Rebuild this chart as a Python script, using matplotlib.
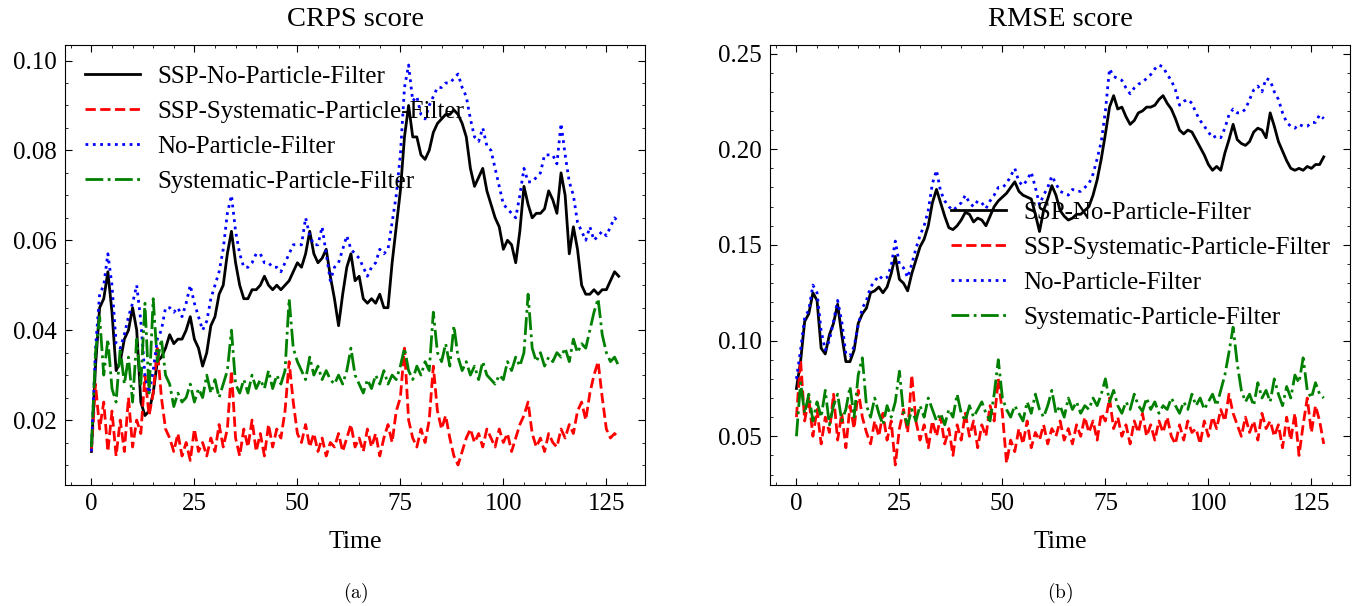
"""CRPS / RMSE score over time for the four filter variants."""
import numpy as np
import matplotlib.pyplot as plt

plt.rcParams.update({
    "font.family": ["Liberation Serif", "DejaVu Serif"],
    "mathtext.fontset": "cm",
    "xtick.direction": "in",
    "ytick.direction": "in",
    "xtick.top": True,
    "ytick.right": True,
    "xtick.minor.visible": True,
    "ytick.minor.visible": True,
    "xtick.major.size": 5,
    "ytick.major.size": 5,
    "xtick.minor.size": 2.5,
    "ytick.minor.size": 2.5,
    "axes.linewidth": 0.8,
})

LABELS = [
    "SSP-No-Particle-Filter",
    "SSP-Systematic-Particle-Filter",
    "No-Particle-Filter",
    "Systematic-Particle-Filter",
]
COLORS = ["k", "r", "b", "g"]
STYLES = ["-", "--", ":", "-."]

time = np.arange(129)

# CRPS values (one per time step)
crps_ssp_no_pf = [
    0.013, 0.032, 0.045, 0.047, 0.053, 0.044, 0.031, 0.033, 0.038, 0.040,
    0.045, 0.040, 0.024, 0.021, 0.022, 0.026, 0.033, 0.034, 0.036, 0.039,
    0.037, 0.038, 0.038, 0.040, 0.043, 0.038, 0.036, 0.032, 0.035, 0.041,
    0.043, 0.048, 0.050, 0.057, 0.062, 0.055, 0.050, 0.047, 0.047, 0.049,
    0.049, 0.050, 0.052, 0.050, 0.049, 0.050, 0.049, 0.050, 0.051, 0.053,
    0.055, 0.054, 0.057, 0.062, 0.057, 0.055, 0.056, 0.058, 0.052, 0.047,
    0.041, 0.048, 0.054, 0.057, 0.051, 0.052, 0.047, 0.046, 0.047, 0.046,
    0.048, 0.045, 0.045, 0.055, 0.063, 0.071, 0.083, 0.090, 0.083, 0.083,
    0.079, 0.078, 0.080, 0.084, 0.086, 0.087, 0.088, 0.088, 0.089, 0.088,
    0.086, 0.083, 0.076, 0.072, 0.074, 0.076, 0.071, 0.068, 0.065, 0.063,
    0.058, 0.060, 0.059, 0.055, 0.062, 0.072, 0.068, 0.065, 0.066, 0.066,
    0.067, 0.071, 0.069, 0.066, 0.075, 0.070, 0.057, 0.063, 0.058, 0.050,
    0.048, 0.048, 0.049, 0.048, 0.049, 0.049, 0.051, 0.053, 0.052,
]
crps_ssp_sys_pf = [
    0.013, 0.028, 0.018, 0.024, 0.013, 0.022, 0.012, 0.020, 0.013, 0.025,
    0.014, 0.020, 0.017, 0.030, 0.021, 0.026, 0.036, 0.025, 0.018, 0.016,
    0.013, 0.017, 0.012, 0.015, 0.011, 0.018, 0.013, 0.015, 0.012, 0.016,
    0.013, 0.019, 0.014, 0.018, 0.031, 0.016, 0.012, 0.018, 0.014, 0.020,
    0.013, 0.017, 0.012, 0.019, 0.014, 0.018, 0.016, 0.022, 0.033, 0.024,
    0.017, 0.015, 0.019, 0.014, 0.017, 0.013, 0.016, 0.012, 0.015, 0.014,
    0.017, 0.013, 0.016, 0.019, 0.014, 0.016, 0.013, 0.018, 0.014, 0.017,
    0.012, 0.016, 0.019, 0.015, 0.022, 0.025, 0.036, 0.020, 0.016, 0.014,
    0.018, 0.015, 0.020, 0.032, 0.022, 0.018, 0.021, 0.016, 0.012, 0.010,
    0.013, 0.016, 0.018, 0.015, 0.017, 0.014, 0.018, 0.016, 0.014, 0.018,
    0.015, 0.017, 0.013, 0.016, 0.019, 0.021, 0.024, 0.017, 0.014, 0.016,
    0.013, 0.017, 0.015, 0.014, 0.018, 0.016, 0.019, 0.017, 0.022, 0.024,
    0.020, 0.026, 0.030, 0.033, 0.025, 0.018, 0.016, 0.017, 0.016,
]
crps_no_pf = [
    0.013, 0.036, 0.048, 0.050, 0.057, 0.050, 0.037, 0.036, 0.039, 0.043,
    0.046, 0.050, 0.042, 0.030, 0.026, 0.031, 0.038, 0.040, 0.045, 0.045,
    0.044, 0.045, 0.043, 0.046, 0.050, 0.046, 0.043, 0.040, 0.042, 0.047,
    0.050, 0.053, 0.058, 0.066, 0.070, 0.062, 0.057, 0.054, 0.054, 0.055,
    0.057, 0.057, 0.055, 0.055, 0.054, 0.054, 0.053, 0.055, 0.057, 0.059,
    0.059, 0.059, 0.065, 0.061, 0.059, 0.059, 0.063, 0.057, 0.051, 0.054,
    0.055, 0.058, 0.061, 0.058, 0.057, 0.056, 0.054, 0.052, 0.054, 0.055,
    0.058, 0.057, 0.058, 0.064, 0.070, 0.079, 0.094, 0.099, 0.091, 0.092,
    0.088, 0.087, 0.090, 0.092, 0.094, 0.094, 0.095, 0.095, 0.096, 0.097,
    0.094, 0.092, 0.087, 0.083, 0.082, 0.085, 0.081, 0.080, 0.076, 0.072,
    0.068, 0.067, 0.066, 0.065, 0.070, 0.076, 0.073, 0.073, 0.074, 0.075,
    0.079, 0.079, 0.079, 0.077, 0.086, 0.079, 0.073, 0.070, 0.064, 0.062,
    0.060, 0.063, 0.060, 0.061, 0.062, 0.061, 0.063, 0.065, 0.064,
]
crps_sys_pf = [
    0.014, 0.035, 0.043, 0.030, 0.038, 0.027, 0.024, 0.036, 0.028, 0.034,
    0.024, 0.038, 0.028, 0.046, 0.026, 0.047, 0.033, 0.038, 0.030, 0.028,
    0.023, 0.026, 0.024, 0.025, 0.028, 0.024, 0.027, 0.025, 0.030, 0.026,
    0.029, 0.025, 0.028, 0.031, 0.040, 0.028, 0.026, 0.029, 0.026, 0.030,
    0.027, 0.029, 0.027, 0.031, 0.027, 0.030, 0.028, 0.031, 0.047, 0.036,
    0.033, 0.031, 0.029, 0.034, 0.030, 0.032, 0.029, 0.031, 0.029, 0.028,
    0.030, 0.028, 0.031, 0.036, 0.030, 0.028, 0.026, 0.029, 0.027, 0.030,
    0.028, 0.031, 0.028, 0.030, 0.029, 0.032, 0.036, 0.031, 0.029, 0.032,
    0.030, 0.033, 0.031, 0.044, 0.035, 0.033, 0.037, 0.032, 0.041, 0.034,
    0.031, 0.033, 0.030, 0.032, 0.029, 0.033, 0.030, 0.029, 0.028, 0.030,
    0.029, 0.033, 0.031, 0.034, 0.032, 0.035, 0.048, 0.036, 0.033, 0.035,
    0.032, 0.034, 0.033, 0.035, 0.034, 0.036, 0.033, 0.038, 0.035, 0.037,
    0.036, 0.040, 0.044, 0.047, 0.039, 0.035, 0.033, 0.034, 0.032,
]

# RMSE values (one per time step)
rmse_ssp_no_pf = [
    0.075, 0.089, 0.110, 0.114, 0.125, 0.121, 0.096, 0.093, 0.103, 0.109,
    0.119, 0.103, 0.089, 0.089, 0.095, 0.109, 0.114, 0.117, 0.125, 0.126,
    0.128, 0.125, 0.128, 0.135, 0.144, 0.132, 0.130, 0.126, 0.135, 0.142,
    0.149, 0.153, 0.160, 0.172, 0.179, 0.172, 0.165, 0.159, 0.158, 0.160,
    0.163, 0.167, 0.166, 0.162, 0.164, 0.163, 0.160, 0.165, 0.170, 0.173,
    0.175, 0.177, 0.180, 0.183, 0.178, 0.176, 0.175, 0.174, 0.166, 0.157,
    0.168, 0.174, 0.181, 0.176, 0.168, 0.165, 0.163, 0.164, 0.166, 0.166,
    0.168, 0.170, 0.176, 0.184, 0.195, 0.208, 0.222, 0.228, 0.221, 0.222,
    0.217, 0.213, 0.215, 0.219, 0.220, 0.222, 0.222, 0.223, 0.226, 0.228,
    0.224, 0.221, 0.216, 0.210, 0.208, 0.210, 0.209, 0.205, 0.201, 0.197,
    0.192, 0.189, 0.191, 0.189, 0.198, 0.205, 0.213, 0.205, 0.203, 0.202,
    0.204, 0.209, 0.211, 0.210, 0.206, 0.219, 0.212, 0.204, 0.199, 0.194,
    0.190, 0.189, 0.190, 0.189, 0.191, 0.190, 0.192, 0.192, 0.196,
]
rmse_ssp_sys_pf = [
    0.060, 0.090, 0.058, 0.070, 0.050, 0.064, 0.046, 0.060, 0.052, 0.072,
    0.048, 0.062, 0.044, 0.066, 0.054, 0.074, 0.060, 0.052, 0.046, 0.058,
    0.050, 0.062, 0.048, 0.058, 0.035, 0.054, 0.064, 0.052, 0.082, 0.058,
    0.048, 0.056, 0.044, 0.058, 0.050, 0.060, 0.046, 0.054, 0.040, 0.056,
    0.048, 0.062, 0.050, 0.058, 0.044, 0.056, 0.050, 0.066, 0.058, 0.080,
    0.062, 0.036, 0.048, 0.042, 0.054, 0.046, 0.058, 0.044, 0.052, 0.048,
    0.056, 0.046, 0.054, 0.050, 0.058, 0.048, 0.054, 0.046, 0.056, 0.050,
    0.060, 0.052, 0.058, 0.048, 0.062, 0.058, 0.070, 0.054, 0.060, 0.050,
    0.056, 0.046, 0.058, 0.052, 0.062, 0.050, 0.056, 0.048, 0.058, 0.052,
    0.060, 0.050, 0.046, 0.056, 0.048, 0.058, 0.052, 0.054, 0.046, 0.058,
    0.050, 0.060, 0.054, 0.064, 0.058, 0.072, 0.062, 0.056, 0.050, 0.060,
    0.052, 0.058, 0.048, 0.062, 0.054, 0.058, 0.050, 0.056, 0.044, 0.060,
    0.048, 0.062, 0.040, 0.056, 0.070, 0.052, 0.066, 0.058, 0.046,
]
rmse_no_pf = [
    0.080, 0.095, 0.112, 0.116, 0.129, 0.125, 0.105, 0.095, 0.100, 0.110,
    0.121, 0.110, 0.093, 0.092, 0.097, 0.108, 0.117, 0.121, 0.128, 0.131,
    0.134, 0.132, 0.133, 0.139, 0.152, 0.140, 0.138, 0.133, 0.140, 0.148,
    0.155, 0.160, 0.168, 0.182, 0.189, 0.178, 0.173, 0.170, 0.168, 0.170,
    0.172, 0.176, 0.172, 0.170, 0.173, 0.172, 0.169, 0.173, 0.176, 0.180,
    0.180, 0.182, 0.186, 0.190, 0.183, 0.181, 0.184, 0.188, 0.180, 0.171,
    0.176, 0.180, 0.186, 0.182, 0.178, 0.177, 0.176, 0.179, 0.178, 0.178,
    0.180, 0.182, 0.187, 0.195, 0.204, 0.220, 0.242, 0.238, 0.237, 0.236,
    0.232, 0.229, 0.232, 0.234, 0.235, 0.237, 0.239, 0.242, 0.244, 0.243,
    0.239, 0.236, 0.231, 0.223, 0.225, 0.226, 0.224, 0.219, 0.215, 0.212,
    0.209, 0.206, 0.207, 0.206, 0.211, 0.218, 0.221, 0.219, 0.219, 0.221,
    0.226, 0.231, 0.233, 0.230, 0.237, 0.236, 0.230, 0.226, 0.219, 0.214,
    0.212, 0.211, 0.213, 0.212, 0.212, 0.214, 0.214, 0.218, 0.216,
]
rmse_sys_pf = [
    0.050, 0.078, 0.062, 0.072, 0.058, 0.068, 0.060, 0.074, 0.056, 0.066,
    0.072, 0.058, 0.064, 0.076, 0.060, 0.082, 0.091, 0.066, 0.060, 0.070,
    0.062, 0.056, 0.066, 0.060, 0.068, 0.084, 0.062, 0.056, 0.064, 0.058,
    0.066, 0.060, 0.070, 0.064, 0.058, 0.062, 0.056, 0.064, 0.060, 0.072,
    0.062, 0.058, 0.066, 0.060, 0.064, 0.068, 0.062, 0.058, 0.072, 0.090,
    0.070, 0.064, 0.060, 0.066, 0.062, 0.058, 0.068, 0.062, 0.072, 0.064,
    0.060, 0.066, 0.074, 0.062, 0.066, 0.060, 0.070, 0.064, 0.068, 0.062,
    0.066, 0.064, 0.070, 0.066, 0.072, 0.080, 0.068, 0.074, 0.066, 0.062,
    0.068, 0.064, 0.072, 0.066, 0.063, 0.070, 0.064, 0.068, 0.062, 0.066,
    0.064, 0.070, 0.066, 0.062, 0.068, 0.064, 0.072, 0.066, 0.070, 0.064,
    0.068, 0.072, 0.066, 0.074, 0.082, 0.094, 0.107, 0.088, 0.074, 0.068,
    0.072, 0.066, 0.078, 0.070, 0.074, 0.068, 0.080, 0.072, 0.066, 0.076,
    0.070, 0.082, 0.078, 0.091, 0.074, 0.070, 0.078, 0.072, 0.070,
]

crps = [crps_ssp_no_pf, crps_ssp_sys_pf, crps_no_pf, crps_sys_pf]
rmse = [rmse_ssp_no_pf, rmse_ssp_sys_pf, rmse_no_pf, rmse_sys_pf]

fig = plt.figure(figsize=(13.69, 6.06), dpi=100)
ax1 = fig.add_axes([0.0475, 0.1997, 0.4237, 0.726])
ax2 = fig.add_axes([0.5625, 0.1997, 0.4237, 0.726])

for ax, series, title, loc, cap in [
    (ax1, crps, "CRPS score", "upper left", "(a)"),
    (ax2, rmse, "RMSE score", "center right", "(b)"),
]:
    for vals, lab, c, ls in zip(series, LABELS, COLORS, STYLES):
        ax.plot(time, vals, color=c, linestyle=ls, linewidth=2.0, label=lab)
    ax.set_title(title, fontsize=20.5, pad=13.5)
    ax.set_xlabel("Time", fontsize=18.5, labelpad=11)
    ax.set_xticks([0, 25, 50, 75, 100, 125])
    ax.tick_params(labelsize=18)
    ax.tick_params(axis="y", which="major", pad=6)
    ax.tick_params(axis="x", which="major", pad=6)
    ax.legend(loc=loc, frameon=False, fontsize=18, handlelength=2.2,
              handletextpad=0.7, borderaxespad=0.4)
    ax.text(0.5, -0.245, r"$\mathrm{" + cap + "}$", transform=ax.transAxes,
            ha="center", va="center", fontsize=14)

ax1.set_yticks([0.02, 0.04, 0.06, 0.08, 0.10])
ax1.set_yticklabels(["0.02", "0.04", "0.06", "0.08", "0.10"])
ax2.set_yticks([0.05, 0.10, 0.15, 0.20, 0.25])
ax2.set_yticklabels(["0.05", "0.10", "0.15", "0.20", "0.25"])

fig.savefig("out.png", dpi=100)
